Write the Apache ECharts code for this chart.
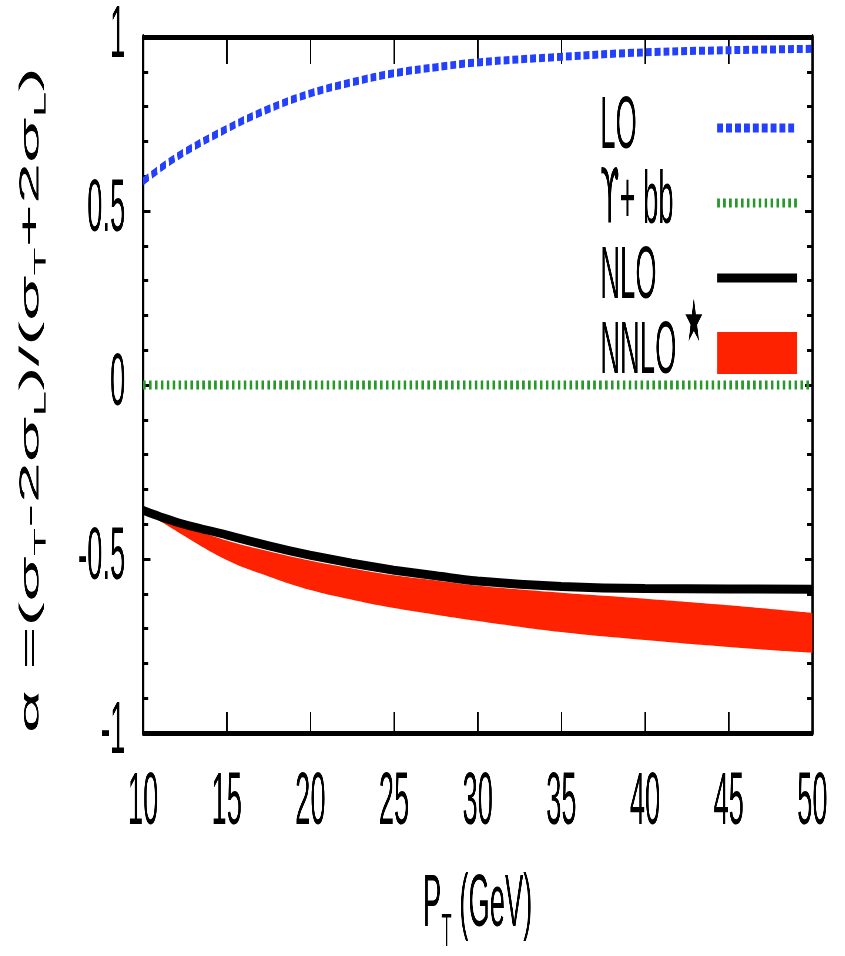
<!DOCTYPE html>
<html>
<head>
<meta charset="utf-8">
<script src="https://cdn.jsdelivr.net/npm/echarts@6/dist/echarts.min.js"></script>
<style>
  html, body { margin: 0; padding: 0; width: 845px; height: 956px; overflow: hidden; background: #fff; }
  #wrap { position: relative; width: 845px; height: 956px; overflow: hidden; }
  #chart { position: absolute; left: 0; top: 0; height: 956px; transform-origin: 0 0; }
</style>
</head>
<body>
<div id="wrap"><div id="chart"></div></div>
<script>
// Transverse momentum grid (GeV)
const pt = [10, 12, 15, 17.5, 20, 22.5, 25, 27.5, 30, 35, 40, 45, 50];

// Polarisation parameter alpha for each prediction
const lo        = [0.585, 0.655, 0.736, 0.793, 0.838, 0.870, 0.896, 0.913, 0.927, 0.943, 0.956, 0.962, 0.966];
const upsilonBB = [0, 0, 0, 0, 0, 0, 0, 0, 0, 0, 0, 0, 0];
const nlo       = [-0.360, -0.394, -0.431, -0.462, -0.489, -0.512, -0.532, -0.548, -0.563, -0.579, -0.585, -0.586, -0.587];
const nnloUpper = [-0.360, -0.398, -0.447, -0.478, -0.505, -0.527, -0.547, -0.562, -0.577, -0.597, -0.614, -0.633, -0.655];
const nnloLower = [-0.360, -0.420, -0.503, -0.550, -0.589, -0.617, -0.641, -0.660, -0.678, -0.710, -0.733, -0.753, -0.770];

// Axis tick labels
const xTickLabels = [10, 15, 20, 25, 30, 35, 40, 45, 50];
const yTickLabels = [-1, -0.5, 0, 0.5, 1];

// The figure uses tall, narrow lettering: draw wide, then squeeze horizontally.
const SQUEEZE = 0.37;
const PAGE_W = 845, PAGE_H = 956;
const W = PAGE_W / SQUEEZE;
const hx = v => v / SQUEEZE;   // page-space horizontal length -> drawing space

const el = document.getElementById('chart');
el.style.width = W + 'px';
el.style.transform = 'scaleX(' + SQUEEZE + ')';

const FONT = "'Liberation Sans', Arial, Helvetica, sans-serif";
const SYMFONT = "'DejaVu Sans', sans-serif";
const FS = 74;

const pairs = arr => pt.map((x, i) => [x, arr[i]]);
// value first, then pT: lets the band stack along the value dimension
const stackPairs = arr => pt.map((x, i) => [arr[i], x]);
const bandWidth = nnloUpper.map((u, i) => +(u - nnloLower[i]).toFixed(4));

const subRich = {
  m: { fontSize: FS, lineHeight: FS, fontFamily: FONT, color: '#000' },
  s: { fontSize: 46, lineHeight: 40, padding: [54, 0, 0, 0], fontFamily: FONT, color: '#000' },
  e: { fontSize: FS, lineHeight: FS, padding: [0, 30, 0, 0], fontFamily: FONT, color: '#000' }
};

const yTitle = '{m|α =(σ}{s|T}{m|-2σ}{s|L}{m|)/(σ}{s|T}{m|+2σ}{s|L}{e|)}';
const xTitle = '{m|P}{s|T}{m| (GeV)}';

const legendLabels = {
  'LO': '{a|LO}',
  'ϒ+ bb': '{u|ϒ}{b|+ bb}',
  'NLO': '{a|NLO}',
  'NNLO': '{n|NNLO}{st|★}'
};

const ROW_STEP = 75;       // distance between legend rows
const FIRST_ROW = 128;     // centre of the first legend row
const STAR_FS = 60;        // superscript star size
const STAR_PB = 56;        // bottom padding that lifts the star
const STAR_REACH = STAR_PB / 2 + STAR_FS / 2;   // star box top above the row centre

const frameColor = '#000';
const xStep = xTickLabels[1] - xTickLabels[0];
const yStep = yTickLabels[1] - yTickLabels[0];

const xCommon = {
  type: 'value',
  min: xTickLabels[0],
  max: xTickLabels[xTickLabels.length - 1],
  interval: xStep,
  splitLine: { show: false },
  axisLine: { show: true, onZero: false, lineStyle: { color: frameColor, width: 5 } }
};
const yCommon = {
  type: 'value',
  min: yTickLabels[0],
  max: yTickLabels[yTickLabels.length - 1],
  interval: yStep,
  splitLine: { show: false },
  minorSplitLine: { show: false },
  axisLine: { show: true, onZero: false, lineStyle: { color: frameColor, width: 6 } },
  axisTick: { show: true, inside: true, length: 20, lineStyle: { color: frameColor, width: 3 } },
  minorTick: { show: true, splitNumber: 5, length: 14, lineStyle: { color: frameColor, width: 3 } }
};

const legendToken = (w, fam) => ({ width: w, align: 'left', fontSize: FS, fontFamily: fam, color: '#000' });

// One legend block; the starred entry gets its own block so the raised star
// does not disturb the row spacing.
function makeLegend(data, top) {
  return {
    orient: 'vertical',
    left: hx(600),
    top: top,
    padding: 0,
    itemGap: ROW_STEP - FS,
    align: 'right',
    itemWidth: hx(80),
    itemHeight: 42,
    selectedMode: false,
    itemStyle: { opacity: 0 },
    lineStyle: { width: 9 },
    formatter: name => legendLabels[name] || name,
    textStyle: {
      fontSize: FS,
      fontFamily: FONT,
      color: '#000',
      rich: {
        a: legendToken(311, FONT),
        u: legendToken(52, SYMFONT),
        b: legendToken(259, FONT),
        n: legendToken(226, FONT),
        st: { width: 85, align: 'left', fontSize: STAR_FS, padding: [0, 0, STAR_PB, 0], fontFamily: SYMFONT, color: '#000' }
      }
    },
    data: data
  };
}

const chart = echarts.init(el, null, { renderer: 'canvas', width: W, height: PAGE_H });

chart.setOption({
  animation: false,
  backgroundColor: '#fff',
  grid: {
    left: hx(143),
    right: W - hx(812),
    top: 37,
    bottom: PAGE_H - 733,
    containLabel: false,
    outerBoundsMode: 'none'
  },
  legend: [
    makeLegend([{ name: 'LO' }, { name: 'ϒ+ bb' }, { name: 'NLO' }], FIRST_ROW - FS / 2),
    makeLegend([{ name: 'NNLO', icon: 'rect', itemStyle: { opacity: 1 } }], FIRST_ROW + 3 * ROW_STEP - STAR_REACH)
  ],
  xAxis: [
    Object.assign({}, xCommon, {
      position: 'bottom',
      axisTick: { show: true, inside: true, length: 21, lineStyle: { color: frameColor, width: 4 } },
      axisLabel: { show: true, margin: 34, fontSize: FS, fontFamily: FONT, color: '#000', showMinLabel: true, showMaxLabel: true },
      name: xTitle,
      nameLocation: 'middle',
      nameGap: 136,
      nameTextStyle: { fontSize: FS, fontFamily: FONT, color: '#000', rich: subRich }
    }),
    Object.assign({}, xCommon, {
      position: 'top',
      axisTick: { show: true, inside: true, length: 27, lineStyle: { color: frameColor, width: 4 } },
      axisLabel: { show: false }
    })
  ],
  yAxis: [
    Object.assign({}, yCommon, {
      position: 'left',
      axisLabel: { show: true, margin: 48, fontSize: FS, fontFamily: FONT, color: '#000', showMinLabel: true, showMaxLabel: true },
      name: yTitle,
      nameLocation: 'middle',
      nameRotate: 90,
      nameGap: 266,
      nameTextStyle: { fontSize: FS, fontFamily: FONT, color: '#000', rich: subRich }
    }),
    Object.assign({}, yCommon, {
      position: 'right',
      axisLabel: { show: false }
    })
  ],
  series: [
    {
      name: 'LO',
      type: 'line',
      data: pairs(lo),
      smooth: 0.4,
      symbol: 'none',
      color: '#2440ff',
      lineStyle: { color: '#2440ff', width: 8, type: [16, 8] },
      z: 3
    },
    {
      name: 'ϒ+ bb',
      type: 'line',
      data: pairs(upsilonBB),
      symbol: 'none',
      color: '#26992a',
      lineStyle: { color: '#26992a', width: 9, type: [7, 9] },
      z: 3
    },
    {
      name: 'NNLO lower edge',
      type: 'line',
      stack: 'nnlo',
      stackStrategy: 'all',
      encode: { x: 1, y: 0 },
      data: stackPairs(nnloLower),
      smooth: 0.4,
      symbol: 'none',
      lineStyle: { width: 0, opacity: 0 },
      z: 2
    },
    {
      name: 'NNLO',
      type: 'line',
      stack: 'nnlo',
      stackStrategy: 'all',
      encode: { x: 1, y: 0 },
      data: stackPairs(bandWidth),
      smooth: 0.4,
      symbol: 'none',
      color: '#ff2200',
      lineStyle: { width: 0, opacity: 0 },
      areaStyle: { color: '#ff2200', opacity: 1 },
      z: 2
    },
    {
      name: 'NLO',
      type: 'line',
      data: pairs(nlo),
      smooth: 0.4,
      symbol: 'none',
      color: '#000',
      lineStyle: { color: '#000', width: 9 },
      z: 4
    }
  ]
});
</script>
</body>
</html>
